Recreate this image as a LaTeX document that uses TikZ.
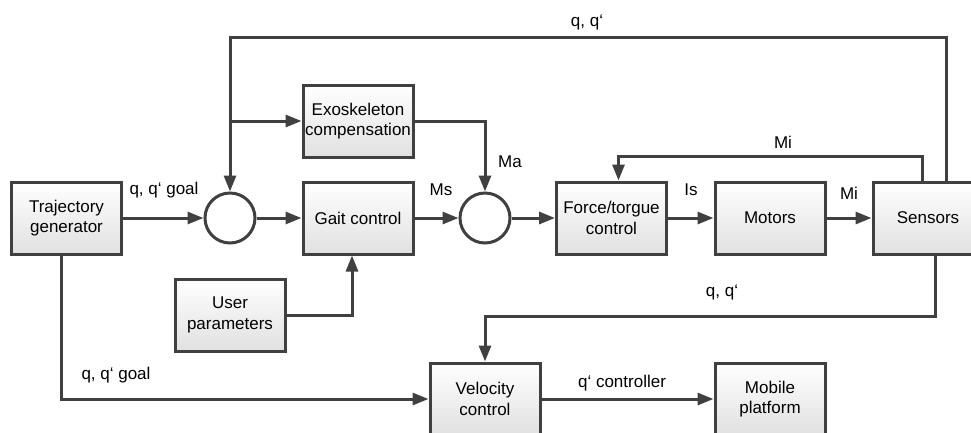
\documentclass[tikz,border=0pt]{standalone}
\usepackage{fontspec}
\setmainfont{Liberation Sans}
\usetikzlibrary{arrows.meta,positioning,calc}

\begin{document}
\begin{tikzpicture}[x=1pt, y=-1pt, font=\fontsize{17}{20.5}\selectfont,
  block/.style={draw=black!75, line width=3pt, top color=white, bottom color=black!12,
    minimum width=110pt, minimum height=72pt, inner sep=0pt, align=center},
  sumnode/.style={circle, draw=black!75, line width=3pt, fill=white, minimum size=50pt, inner sep=0pt},
  arr/.style={draw=black!75, line width=3pt, -{Triangle[length=16pt,width=12pt]}},
  lbl/.style={inner sep=0pt, text=black},
]
\clip (0,0) rectangle (971,432);
% ---- blocks ----
\node[block] (traj) at (66.5,218) {Trajectory\\generator};
\node[sumnode] (sum1) at (230,218) {};
\node[block] (gait) at (358,218) {Gait control};
\node[block] (exo) at (358,121) {Exoskeleton\\compensation};
\node[sumnode] (sum2) at (485,218) {};
\node[block] (force) at (611.5,218) {Force/torgue\\control};
\node[block] (motor) at (770,218) {Motors};
\node[block] (sens) at (928,218) {Sensors};
\node[block] (user) at (230,315) {User\\parameters};
\node[block] (vel) at (485,399) {Velocity\\control};
\node[block] (mob) at (770,399) {Mobile\\platform};
% junctions
\coordinate (qtop) at (230,37);
\coordinate (qbr) at (230,121);
\coordinate (qlow) at (485,316);
% ---- connectors ----
\draw[arr] (traj.east) -- (sum1.west);
\draw[arr] (sum1.east) -- (gait.west);
\draw[arr] (gait.east) -- (sum2.west);
\draw[arr] (sum2.east) -- (force.west);
\draw[arr] (force.east) -- (motor.west);
\draw[arr] (motor.east) -- (sens.west);
\draw[arr] ([xshift=18pt]sens.north) |- (qtop) -- (sum1.north);
\draw[arr] (qbr) -- (exo.west);
\draw[arr] (exo.east) -| (sum2.north);
\draw[arr] ([xshift=-6pt]sens.north) |- ([xshift=7pt,yshift=24pt]force.north) -- ([xshift=7pt]force.north);
\draw[arr] (user.east) -| ([xshift=-6pt]gait.south);
\draw[arr] ([xshift=-5pt]traj.south) |- (vel.west);
\draw[arr] ([xshift=7pt]sens.south) |- (qlow) -- (vel.north);
\draw[arr] (vel.east) -- (mob.west);
% ---- labels ----
\node[lbl] (lqtop) at (587,22) {q, q‘};
\node[lbl] (lgoal) at (164,190) {q, q‘ goal};
\node[lbl] (lms) at (441,190) {Ms};
\node[lbl] (lma) at (510,162) {Ma};
\node[lbl] (lmi) at (783,142) {Mi};
\node[lbl] (lis) at (691,190) {Is};
\node[lbl] (lmi2) at (849,193) {Mi};
\node[lbl] (lqlow) at (722,292) {q, q‘};
\node[lbl] (lgoal2) at (116,375) {q, q‘ goal};
\node[lbl] (lctrl) at (622,383) {q‘ controller};
\end{tikzpicture}
\end{document}
